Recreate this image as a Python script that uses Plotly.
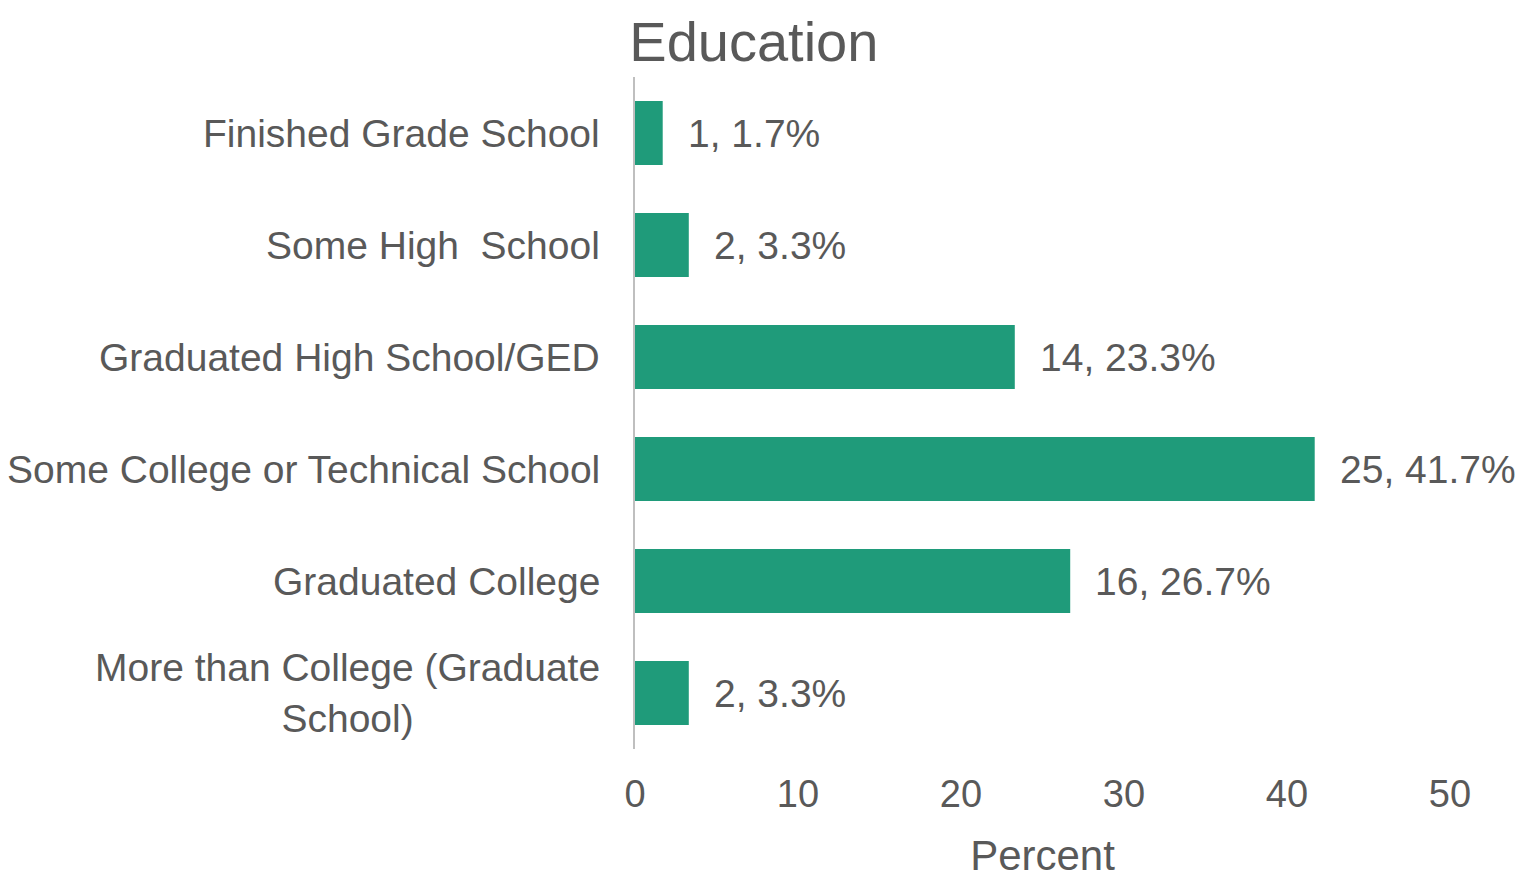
import plotly.graph_objects as go

categories = [
    "Finished Grade School",
    "Some High  School",
    "Graduated High School/GED",
    "Some College or Technical School",
    "Graduated College",
    "More than College (Graduate<br>School)",
]
counts = [1, 2, 14, 25, 16, 2]
percents = [1.7, 3.3, 23.3, 41.7, 26.7, 3.3]
x_ticks = [0, 10, 20, 30, 40, 50]

FONT = "Liberation Sans, Arial, sans-serif"
TXT = "#595959"
BAR = "#1F9B7A"

fig = go.Figure()
fig.add_trace(go.Bar(
    y=categories,
    x=percents,
    orientation="h",
    marker=dict(color=BAR, line=dict(width=0)),
    hoverinfo="skip",
))

annotations = []
for cat in categories:
    annotations.append(dict(
        x=0, xref="paper", y=cat, yref="y",
        text=cat.replace("  ", "\u00a0\u00a0"), showarrow=False,
        xanchor="right", yanchor="middle", xshift=-33, align="center",
        font=dict(family=FONT, size=39, color=TXT),
    ))
for cat, c, p in zip(categories, counts, percents):
    annotations.append(dict(
        x=p, xref="x", y=cat, yref="y",
        text=f"{c}, {p}%", showarrow=False,
        xanchor="left", yanchor="middle", xshift=23,
        font=dict(family=FONT, size=39, color=TXT),
    ))

fig.update_layout(
    width=1519, height=871,
    margin=dict(l=627, r=77, t=69, b=130),
    paper_bgcolor="white", plot_bgcolor="white",
    bargap=0.43,
    showlegend=False,
    title=dict(
        text="Education", x=0.491, xref="container", xanchor="center",
        y=1 - 33 / 871, yref="container", yanchor="middle",
        font=dict(family=FONT, size=56, color=TXT),
    ),
    xaxis=dict(
        range=[0, 50], tickvals=x_ticks, ticktext=[str(v) for v in x_ticks],
        showgrid=False, zeroline=False, showline=False, ticks="",
        tickfont=dict(family=FONT, size=38, color=TXT),
        ticklabelstandoff=19,
        title=dict(text="Percent", font=dict(family=FONT, size=42, color=TXT), standoff=26),
        automargin=False,
    ),
    yaxis=dict(
        autorange="reversed", showticklabels=False, showgrid=False,
        zeroline=False, showline=True, linecolor="#BFBFBF", linewidth=2,
        ticks="", automargin=False,
    ),
    annotations=annotations,
)

fig.write_html("out.html")
